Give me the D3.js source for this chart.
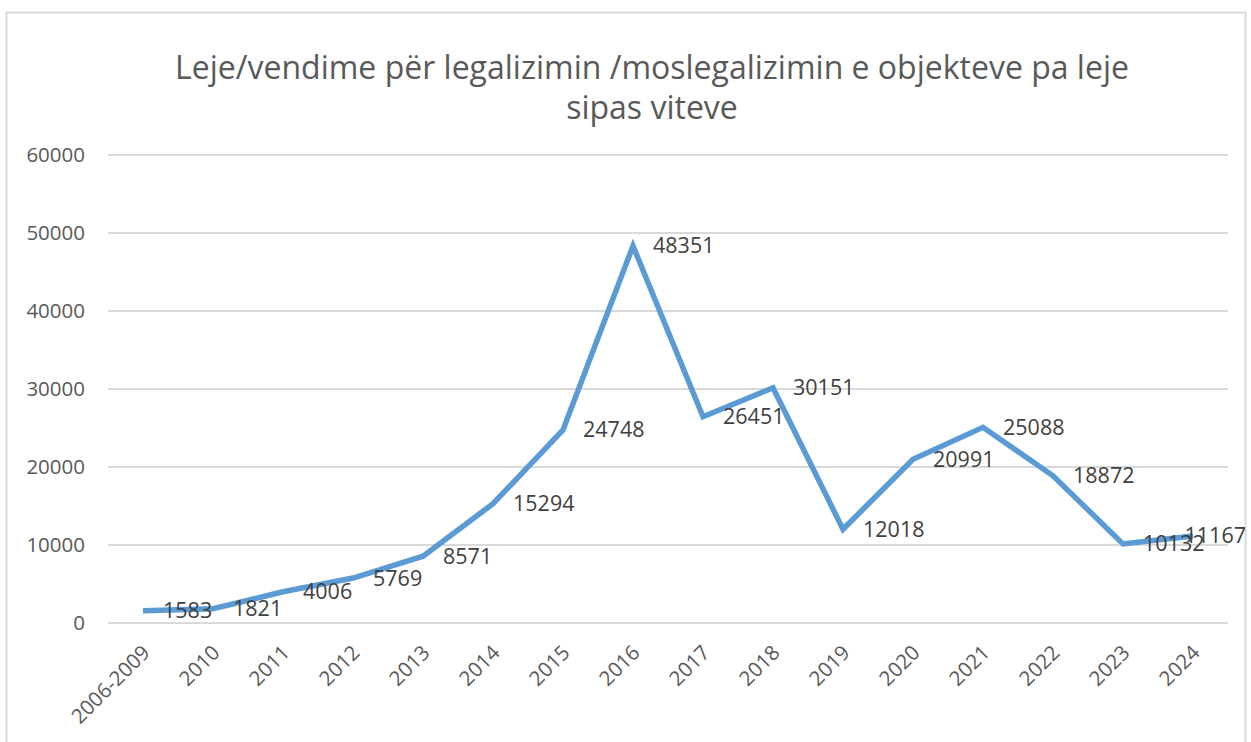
<!DOCTYPE html>
<html>
<head>
<meta charset="utf-8">
<script src="https://cdn.jsdelivr.net/npm/d3@7"></script>
<style>
  body { margin: 0; background: #fff; }
  text { font-family: "Open Sans", "Noto Sans", sans-serif; }
</style>
</head>
<body>
<div id="chart"></div>
<script>
// chart data
var categories = ["2006-2009", "2010", "2011", "2012", "2013", "2014", "2015", "2016",
                  "2017", "2018", "2019", "2020", "2021", "2022", "2023", "2024"];
var values = [1583, 1821, 4006, 5769, 8571, 15294, 24748, 48351,
              26451, 30151, 12018, 20991, 25088, 18872, 10132, 11167];
var yTicks = [0, 10000, 20000, 30000, 40000, 50000, 60000];
var titleLines = ["Leje/vendime për legalizimin /moslegalizimin e objekteve pa leje",
                  "sipas viteve"];

var W = 1251, H = 742;
var margin = {top: 155, right: 23, bottom: 119, left: 108},
    width = W - margin.left - margin.right,
    height = H - margin.top - margin.bottom;

var svg = d3.select("#chart").append("svg")
    .attr("width", W)
    .attr("height", H);

// chart border
svg.append("rect")
    .attr("x", 6.5).attr("y", 12.5)
    .attr("width", 1239).attr("height", 760)
    .attr("fill", "none")
    .attr("stroke", "#d9d9d9")
    .attr("stroke-width", 2);

// title
svg.append("g").selectAll("text")
    .data(titleLines)
  .enter().append("text")
    .attr("x", 652)
    .attr("y", function(d, i) { return 79 + i * 40; })
    .attr("text-anchor", "middle")
    .attr("font-size", 32)
    .attr("fill", "#595959")
    .text(function(d) { return d; });

var g = svg.append("g")
    .attr("transform", "translate(" + margin.left + "," + margin.top + ")");

var x = d3.scaleBand().domain(categories).range([0, width]);
var y = d3.scaleLinear().domain([0, 60000]).range([height, 0]);

// gridlines
g.append("g").selectAll("line")
    .data(yTicks)
  .enter().append("line")
    .attr("x1", 0).attr("x2", width)
    .attr("y1", function(d) { return y(d); })
    .attr("y2", function(d) { return y(d); })
    .attr("stroke", "#d9d9d9")
    .attr("stroke-width", 2);

// y axis labels
var yAxis = g.append("g")
    .call(d3.axisLeft(y).tickValues(yTicks).tickFormat(d3.format("d")).tickSize(0).tickPadding(23));
yAxis.select(".domain").remove();
yAxis.selectAll("text")
    .attr("font-size", 20.5)
    .attr("fill", "#595959")
    .style("font-family", "'Open Sans', sans-serif");

// x axis labels
var xAxis = g.append("g")
    .attr("transform", "translate(0," + height + ")")
    .call(d3.axisBottom(x).tickSize(0));
xAxis.select(".domain").remove();
xAxis.selectAll("text")
    .attr("font-size", 20.5)
    .attr("fill", "#595959")
    .style("font-family", "'Open Sans', sans-serif")
    .attr("text-anchor", "end")
    .attr("dy", null)
    .attr("y", 0)
    .attr("transform", "translate(8,31) rotate(-45)");

// the line
var valueline = d3.line()
    .x(function(d, i) { return x(categories[i]) + x.bandwidth() / 2; })
    .y(function(d) { return y(d); });

g.append("path")
    .datum(values)
    .attr("fill", "none")
    .attr("stroke", "#5b9bd5")
    .attr("stroke-width", 5.5)
    .attr("stroke-linejoin", "miter")
    .attr("d", valueline);

// data labels, kept inside the chart border
var maxRight = 1246 - margin.left;
g.append("g").selectAll("text")
    .data(values)
  .enter().append("text")
    .attr("x", function(d, i) { return x(categories[i]) + x.bandwidth() / 2 + 20; })
    .attr("y", function(d) { return y(d); })
    .attr("dy", "0.35em")
    .attr("font-size", 21.5)
    .attr("fill", "#404040")
    .text(function(d) { return d; })
    .each(function() {
      var t = d3.select(this), len = this.getComputedTextLength(), x0 = +t.attr("x");
      if (x0 + len > maxRight) t.attr("x", maxRight - len);
    });
</script>
</body>
</html>
